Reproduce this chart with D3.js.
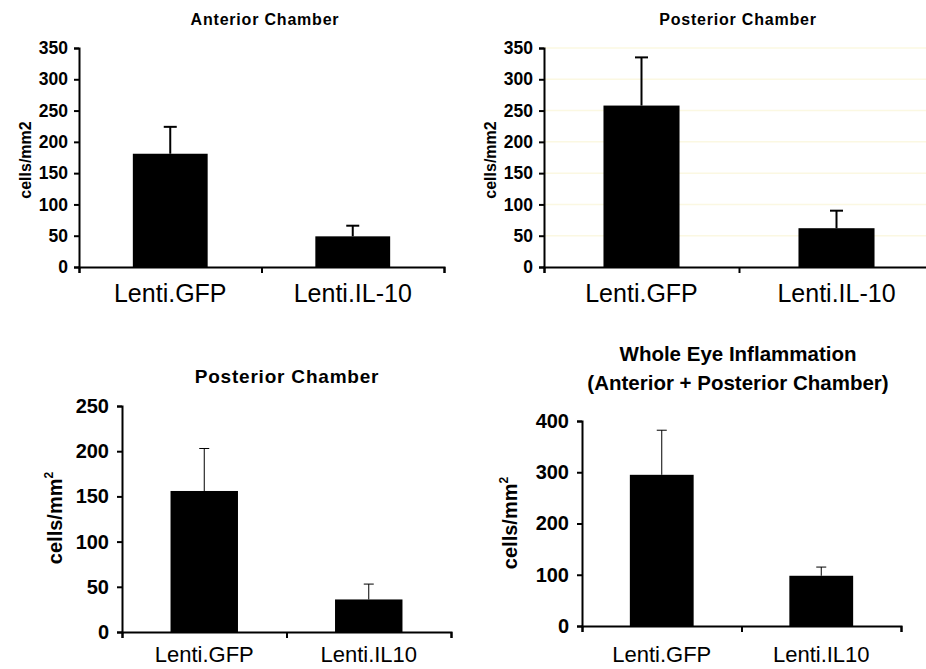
<!DOCTYPE html>
<html>
<head>
<meta charset="utf-8">
<script src="https://cdn.jsdelivr.net/npm/d3@7"></script>
<style>
  body { margin: 0; background: #fff; }
  svg { display: block; font-family: Arial, "Liberation Sans", Helvetica, sans-serif; }
</style>
</head>
<body>
<svg id="chart" width="926" height="669"></svg>
<script>
// values
const categoriesTop = ["Lenti.GFP", "Lenti.IL-10"]
const categoriesBottom = ["Lenti.GFP", "Lenti.IL10"]

const anteriorMeans = [181, 49]
const anteriorErrors = [43, 17]
const posteriorMeans = [258, 62]
const posteriorErrors = [77, 28]
const posterior2Means = [156, 36]
const posterior2Errors = [47, 17]
const wholeEyeMeans = [295, 98]
const wholeEyeErrors = [87, 17]

const ticksTop = [0, 50, 100, 150, 200, 250, 300, 350]
const ticksPosterior2 = [0, 50, 100, 150, 200, 250]
const ticksWholeEye = [0, 100, 200, 300, 400]

const svg = d3.select("#chart")

function drawPanel(p) {
    var g = svg.append("g")

    var y = d3.scaleLinear()
        .domain([0, p.ticks[p.ticks.length - 1]])
        .range([p.bottom, p.top])

    var x = d3.scaleBand()
        .domain(p.categories)
        .range([p.left, p.right])
        .paddingInner(p.pad)
        .paddingOuter(p.pad / 2)

    // faint grid
    if (p.grid) {
        g.append("g").selectAll("line")
            .data(p.ticks.slice(1))
            .enter().append("line")
            .attr("x1", p.left).attr("x2", p.right)
            .attr("y1", function(d) { return y(d) }).attr("y2", function(d) { return y(d) })
            .attr("stroke", "#fbf8e2").attr("stroke-width", 1.5)
    }

    // bars
    g.append("g").selectAll("rect")
        .data(p.means)
        .enter().append("rect")
        .attr("x", function(d, i) { return x(p.categories[i]) })
        .attr("y", function(d) { return y(d) })
        .attr("width", x.bandwidth())
        .attr("height", function(d) { return p.bottom - y(d) })
        .attr("fill", "#000")

    // error bars (upper only)
    var eb = g.append("g").attr("stroke", "#000").attr("stroke-width", p.errWidth)
    p.means.forEach(function(m, i) {
        var cx = x(p.categories[i]) + x.bandwidth() / 2
        eb.append("line")
            .attr("x1", cx).attr("x2", cx)
            .attr("y1", y(m)).attr("y2", y(m + p.errors[i]))
        eb.append("line")
            .attr("x1", cx - p.cap / 2).attr("x2", cx + p.cap / 2)
            .attr("y1", y(m + p.errors[i])).attr("y2", y(m + p.errors[i]))
    })

    // y axis
    var yAxis = g.append("g")
        .attr("transform", "translate(" + p.left + ",0)")
        .call(d3.axisLeft(y).tickValues(p.ticks).tickSizeOuter(0).tickSize(5).tickPadding(p.tickPad))
    yAxis.select(".domain").attr("stroke-width", p.axisWidth)
    yAxis.selectAll(".tick line").attr("stroke-width", p.axisWidth)
    yAxis.selectAll("text")
        .attr("font-size", p.tickFont)
        .attr("font-weight", "bold")
        .attr("font-family", "Arial, 'Liberation Sans', sans-serif")
        .attr("fill", "#000")

    // x axis: ticks at category boundaries
    var xb = d3.scaleLinear().domain([0, p.categories.length]).range([p.left, p.right])
    var xAxis = g.append("g")
        .attr("transform", "translate(0," + p.bottom + ")")
        .call(d3.axisBottom(xb).tickValues(d3.range(p.categories.length + 1)).tickFormat("").tickSizeOuter(0).tickSize(6))
    xAxis.select(".domain").attr("stroke-width", p.axisWidth)
    xAxis.selectAll(".tick line").attr("stroke-width", p.axisWidth)

    // category labels
    g.append("g").selectAll("text")
        .data(p.categories)
        .enter().append("text")
        .attr("x", function(d) { return x(d) + x.bandwidth() / 2 })
        .attr("y", p.labelY)
        .attr("text-anchor", "middle")
        .attr("font-size", p.labelFont)
        .text(function(d) { return d })

    // title
    p.title.forEach(function(t, i) {
        g.append("text")
            .attr("x", p.titleX)
            .attr("y", p.titleY + i * p.titleLine)
            .attr("text-anchor", "middle")
            .attr("font-size", p.titleFont)
            .attr("font-weight", "bold")
            .attr("letter-spacing", p.titleSpacing)
            .text(t)
    })

    // y label
    var yl = g.append("text")
        .attr("transform", "translate(" + p.ylabelX + "," + p.ylabelY + ") rotate(-90)")
        .attr("text-anchor", "middle")
        .attr("font-size", p.ylabelFont)
        .attr("font-weight", "bold")
    if (p.superscript) {
        yl.append("tspan").text("cells/mm")
        yl.append("tspan").attr("dy", -p.ylabelFont * 0.45).attr("font-size", p.ylabelFont * 0.6).text("2")
    } else {
        yl.text("cells/mm2")
    }
}

drawPanel({
    categories: categoriesTop, means: anteriorMeans, errors: anteriorErrors, ticks: ticksTop,
    left: 79, right: 444, top: 48, bottom: 267, pad: 0.59, grid: false,
    errWidth: 2, cap: 13, axisWidth: 2, tickFont: 17.5, tickPad: 6,
    labelY: 302, labelFont: 25,
    title: ["Anterior Chamber"], titleX: 265, titleY: 25, titleLine: 0, titleFont: 16, titleSpacing: 0.8,
    ylabelX: 31, ylabelY: 160, ylabelFont: 16, superscript: false
})

drawPanel({
    categories: categoriesTop, means: posteriorMeans, errors: posteriorErrors, ticks: ticksTop,
    left: 544, right: 934, top: 48, bottom: 267, pad: 0.61, grid: true,
    errWidth: 2, cap: 13, axisWidth: 2, tickFont: 17.5, tickPad: 6,
    labelY: 302, labelFont: 25,
    title: ["Posterior Chamber"], titleX: 738, titleY: 25, titleLine: 0, titleFont: 16, titleSpacing: 0.8,
    ylabelX: 496, ylabelY: 160, ylabelFont: 16, superscript: false
})

drawPanel({
    categories: categoriesBottom, means: posterior2Means, errors: posterior2Errors, ticks: ticksPosterior2,
    left: 122, right: 451, top: 406, bottom: 632, pad: 0.59, grid: false,
    errWidth: 1, cap: 10, axisWidth: 2, tickFont: 20, tickPad: 8,
    labelY: 662, labelFont: 22,
    title: ["Posterior Chamber"], titleX: 287, titleY: 383, titleLine: 0, titleFont: 19, titleSpacing: 0.8,
    ylabelX: 62, ylabelY: 518, ylabelFont: 20, superscript: true
})

drawPanel({
    categories: categoriesBottom, means: wholeEyeMeans, errors: wholeEyeErrors, ticks: ticksWholeEye,
    left: 582, right: 901, top: 421, bottom: 626, pad: 0.6, grid: false,
    errWidth: 1, cap: 10, axisWidth: 2, tickFont: 20, tickPad: 8,
    labelY: 662, labelFont: 22,
    title: ["Whole Eye Inflammation", "(Anterior + Posterior Chamber)"], titleX: 738, titleY: 361, titleLine: 29, titleFont: 20.5, titleSpacing: 0,
    ylabelX: 517, ylabelY: 523, ylabelFont: 20, superscript: true
})
</script>
</body>
</html>
